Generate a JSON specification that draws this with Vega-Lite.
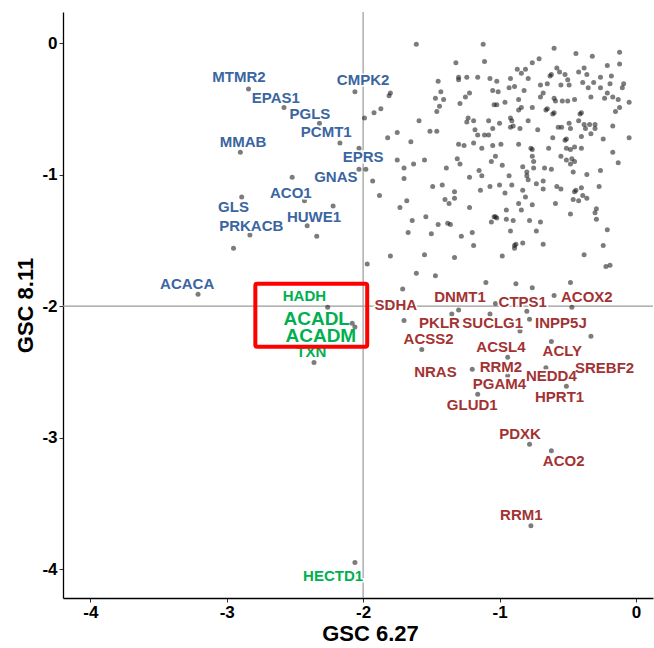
{
  "$schema": "https://vega.github.io/schema/vega-lite/v6.json",
  "width": 590,
  "height": 586,
  "autosize": "none",
  "padding": {"left": 63, "top": 12, "right": 1, "bottom": 50},
  "background": "white",
  "config": {
    "view": {"stroke": null},
    "axis": {
      "grid": false,
      "domainColor": "#000000",
      "domainWidth": 1.3,
      "tickColor": "#333333",
      "tickSize": 4,
      "tickWidth": 1,
      "labelFont": "Liberation Sans",
      "labelFontWeight": "bold",
      "labelFontSize": 17,
      "labelColor": "#000000",
      "labelPadding": 2,
      "titleFont": "Liberation Sans",
      "titleFontWeight": "bold",
      "titleFontSize": 22,
      "titleColor": "#000000"
    }
  },
  "datasets": {
    "points": [
      {"x":-2.84,"y":-0.35},{"x":-2.58,"y":-0.49},{"x":-2.32,"y":-0.61},{"x":-2.17,"y":-0.76},{"x":-2.90,"y":-0.83},{"x":-2.06,"y":-0.37},{"x":-2.03,"y":-0.80},{"x":-2.03,"y":-0.96},{"x":-1.98,"y":-0.96},{"x":-2.52,"y":-1.02},{"x":-2.89,"y":-1.17},{"x":-2.43,"y":-1.20},{"x":-2.22,"y":-1.24},{"x":-2.41,"y":-1.39},{"x":-2.34,"y":-1.47},{"x":-2.83,"y":-1.46},{"x":-2.95,"y":-1.56},{"x":-3.21,"y":-1.91},
      {"x":-2.26,"y":-2.01},{"x":-2.08,"y":-2.13},{"x":-2.06,"y":-2.16},{"x":-2.36,"y":-2.43},{"x":-2.06,"y":-3.95},
      {"x":-1.61,"y":-0.01},{"x":-1.12,"y":-0.01},{"x":-1.32,"y":-0.15},{"x":-1.11,"y":-0.14},{"x":-1.45,"y":-0.29},{"x":-1.30,"y":-0.26},{"x":-1.30,"y":-0.28},{"x":-1.24,"y":-0.26},{"x":-1.16,"y":-0.26},{"x":-1.07,"y":-0.27},{"x":-1.02,"y":-0.29},{"x":-1.80,"y":-0.38},{"x":-1.81,"y":-0.40},{"x":-1.43,"y":-0.37},{"x":-1.47,"y":-0.42},{"x":-1.41,"y":-0.43},{"x":-1.44,"y":-0.48},{"x":-1.46,"y":-0.52},{"x":-1.29,"y":-0.46},{"x":-1.25,"y":-0.41},{"x":-1.22,"y":-0.38},{"x":-1.05,"y":-0.36},{"x":-1.01,"y":-0.37},{"x":-0.96,"y":-0.45},{"x":-1.04,"y":-0.47},{"x":-1.02,"y":-0.47},{"x":-1.87,"y":-0.50},{"x":-1.92,"y":-0.53},{"x":-1.99,"y":-0.57},{"x":-1.59,"y":-0.59},{"x":-1.23,"y":-0.57},{"x":-1.24,"y":-0.60},{"x":-1.19,"y":-0.59},{"x":-1.08,"y":-0.59},{"x":-1.00,"y":-0.61},{"x":-1.18,"y":-0.66},{"x":-1.05,"y":-0.65},{"x":-1.16,"y":-0.70},{"x":-1.11,"y":-0.70},{"x":-1.08,"y":-0.70},{"x":-1.51,"y":-0.67},{"x":-1.46,"y":-0.67},{"x":-1.75,"y":-0.68},{"x":-1.82,"y":-0.72},{"x":-1.65,"y":-0.75},{"x":-1.30,"y":-0.77},{"x":-1.26,"y":-0.78},{"x":-1.19,"y":-0.76},{"x":-1.13,"y":-0.80},{"x":-1.05,"y":-0.78},{"x":-0.99,"y":-0.77},
      {"x":-0.60,"y":-0.04},{"x":-0.44,"y":-0.08},{"x":-0.32,"y":-0.10},{"x":-0.12,"y":-0.07},{"x":-0.12,"y":-0.16},{"x":-0.21,"y":-0.17},{"x":-0.71,"y":-0.12},{"x":-0.76,"y":-0.15},{"x":-0.87,"y":-0.20},{"x":-0.84,"y":-0.23},{"x":-0.81,"y":-0.20},{"x":-0.92,"y":-0.27},{"x":-0.79,"y":-0.27},{"x":-0.62,"y":-0.24},{"x":-0.63,"y":-0.25},{"x":-0.58,"y":-0.19},{"x":-0.56,"y":-0.22},{"x":-0.52,"y":-0.24},{"x":-0.42,"y":-0.22},{"x":-0.38,"y":-0.19},{"x":-0.36,"y":-0.24},{"x":-0.26,"y":-0.26},{"x":-0.18,"y":-0.25},{"x":-0.93,"y":-0.34},{"x":-0.89,"y":-0.33},{"x":-0.82,"y":-0.36},{"x":-0.70,"y":-0.32},{"x":-0.65,"y":-0.31},{"x":-0.55,"y":-0.32},{"x":-0.49,"y":-0.32},{"x":-0.50,"y":-0.28},{"x":-0.39,"y":-0.30},{"x":-0.35,"y":-0.34},{"x":-0.31,"y":-0.30},{"x":-0.26,"y":-0.34},{"x":-0.19,"y":-0.31},{"x":-0.09,"y":-0.31},{"x":-0.10,"y":-0.34},{"x":-0.33,"y":-0.41},{"x":-0.23,"y":-0.42},{"x":-0.21,"y":-0.38},{"x":-0.17,"y":-0.41},{"x":-0.13,"y":-0.43},{"x":-0.05,"y":-0.45},{"x":-0.12,"y":-0.49},{"x":-0.15,"y":-0.52},{"x":-0.70,"y":-0.41},{"x":-0.68,"y":-0.38},{"x":-0.60,"y":-0.42},{"x":-0.59,"y":-0.44},{"x":-0.54,"y":-0.44},{"x":-0.50,"y":-0.44},{"x":-0.45,"y":-0.43},{"x":-0.86,"y":-0.43},{"x":-0.84,"y":-0.49},{"x":-0.86,"y":-0.51},{"x":-0.76,"y":-0.49},{"x":-0.65,"y":-0.50},{"x":-0.66,"y":-0.51},{"x":-0.60,"y":-0.53},{"x":-0.61,"y":-0.54},{"x":-0.92,"y":-0.57},{"x":-0.91,"y":-0.59},{"x":-0.92,"y":-0.64},{"x":-0.90,"y":-0.63},{"x":-0.85,"y":-0.65},{"x":-0.79,"y":-0.59},{"x":-0.72,"y":-0.66},{"x":-0.57,"y":-0.64},{"x":-0.545,"y":-0.64},{"x":-0.49,"y":-0.61},{"x":-0.48,"y":-0.65},{"x":-0.42,"y":-0.59},{"x":-0.40,"y":-0.53},{"x":-0.41,"y":-0.54},{"x":-0.38,"y":-0.62},{"x":-0.37,"y":-0.65},{"x":-0.34,"y":-0.62},{"x":-0.30,"y":-0.62},{"x":-0.30,"y":-0.65},{"x":-0.17,"y":-0.63},{"x":-0.61,"y":-0.72},{"x":-0.51,"y":-0.73},{"x":-0.52,"y":-0.74},{"x":-0.40,"y":-0.71},{"x":-0.33,"y":-0.69},{"x":-0.24,"y":-0.73},{"x":-0.05,"y":-0.72},{"x":-0.86,"y":-0.77},{"x":-0.76,"y":-0.81},{"x":-0.77,"y":-0.80},{"x":-0.64,"y":-0.80},{"x":-0.51,"y":-0.80},{"x":-0.48,"y":-0.81},{"x":-0.45,"y":-0.79},{"x":-0.40,"y":-0.80},{"x":-0.17,"y":-0.83},
      {"x":-1.75,"y":-0.89},{"x":-1.70,"y":-0.95},{"x":-1.63,"y":-0.92},{"x":-1.55,"y":-0.89},{"x":-1.39,"y":-0.95},{"x":-1.31,"y":-0.88},{"x":-1.29,"y":-0.92},{"x":-1.22,"y":-1.02},{"x":-1.15,"y":-0.97},{"x":-1.13,"y":-1.01},{"x":-1.06,"y":-0.90},{"x":-1.03,"y":-0.86},{"x":-0.98,"y":-0.93},{"x":-1.07,"y":-1.09},{"x":-1.00,"y":-1.08},{"x":-1.14,"y":-1.12},{"x":-0.96,"y":-1.14},{"x":-1.70,"y":-1.03},{"x":-1.93,"y":-1.05},{"x":-1.49,"y":-1.09},{"x":-1.42,"y":-1.08},{"x":-1.33,"y":-1.13},{"x":-1.33,"y":-1.18},{"x":-1.40,"y":-1.19},{"x":-1.37,"y":-1.22},{"x":-1.22,"y":-1.25},{"x":-1.68,"y":-1.20},{"x":-1.73,"y":-1.25},{"x":-1.88,"y":-1.16},{"x":-1.54,"y":-1.32},{"x":-1.64,"y":-1.35},{"x":-1.45,"y":-1.38},{"x":-1.38,"y":-1.37},{"x":-1.36,"y":-1.38},{"x":-1.28,"y":-1.47},{"x":-1.20,"y":-1.44},{"x":-1.19,"y":-1.54},{"x":-1.50,"y":-1.45},{"x":-1.67,"y":-1.44},{"x":-1.04,"y":-1.32},{"x":-1.02,"y":-1.33},{"x":-1.03,"y":-1.32},{"x":-1.06,"y":-1.36},{"x":-1.55,"y":-1.61},{"x":-1.33,"y":-1.63},{"x":-0.98,"y":-1.62},{"x":-1.80,"y":-1.62},{"x":-1.97,"y":-1.68},{"x":-1.61,"y":-1.75},{"x":-1.47,"y":-1.77},{"x":-1.10,"y":-1.82},
      {"x":-0.76,"y":-0.86},{"x":-0.75,"y":-0.90},{"x":-0.55,"y":-0.86},{"x":-0.51,"y":-0.89},{"x":-0.48,"y":-0.92},{"x":-0.47,"y":-0.88},{"x":-0.45,"y":-0.90},{"x":-0.13,"y":-0.91},{"x":-0.83,"y":-0.94},{"x":-0.75,"y":-0.95},{"x":-0.67,"y":-0.95},{"x":-0.62,"y":-0.96},{"x":-0.80,"y":-0.98},{"x":-0.80,"y":-1.01},{"x":-0.79,"y":-1.04},{"x":-0.93,"y":-1.01},{"x":-0.91,"y":-1.08},{"x":-0.73,"y":-1.07},{"x":-0.68,"y":-1.05},{"x":-0.68,"y":-1.11},{"x":-0.58,"y":-1.09},{"x":-0.55,"y":-1.11},{"x":-0.46,"y":-0.98},{"x":-0.36,"y":-1.00},{"x":-0.26,"y":-0.97},{"x":-0.27,"y":-1.09},{"x":-0.40,"y":-1.10},{"x":-0.45,"y":-1.13},{"x":-0.44,"y":-1.12},{"x":-0.46,"y":-1.19},{"x":-0.42,"y":-1.20},{"x":-0.39,"y":-1.16},{"x":-0.36,"y":-1.18},{"x":-0.83,"y":-1.12},{"x":-0.81,"y":-1.17},{"x":-0.86,"y":-1.22},{"x":-0.84,"y":-1.27},{"x":-0.76,"y":-1.23},{"x":-0.59,"y":-1.22},{"x":-0.95,"y":-1.27},{"x":-0.95,"y":-1.34},{"x":-0.90,"y":-1.35},{"x":-0.78,"y":-1.35},{"x":-0.70,"y":-1.36},{"x":-0.92,"y":-1.43},{"x":-0.73,"y":-1.43},{"x":-0.48,"y":-1.30},{"x":-0.29,"y":-1.26},{"x":-0.30,"y":-1.29},{"x":-0.29,"y":-1.34},{"x":-0.21,"y":-1.42},{"x":-0.24,"y":-1.54},{"x":-0.38,"y":-1.61},{"x":-0.22,"y":-1.70},{"x":-0.19,"y":-1.69},{"x":-0.89,"y":-1.54},{"x":-0.88,"y":-1.53},{"x":-0.89,"y":-1.56},{"x":-0.83,"y":-1.52},{"x":-0.68,"y":-1.53},
      {"x":-1.71,"y":-1.87},{"x":-0.88,"y":-1.83},{"x":-0.76,"y":-1.86},{"x":-0.48,"y":-1.82},{"x":-0.60,"y":-1.92},{"x":-1.03,"y":-1.98},{"x":-0.80,"y":-2.04},{"x":-1.35,"y":-2.06},{"x":-1.30,"y":-2.03},{"x":-1.07,"y":-2.06},{"x":-0.47,"y":-2.01},{"x":-1.70,"y":-2.11},{"x":-0.78,"y":-2.10},{"x":-0.85,"y":-2.19},{"x":-0.33,"y":-2.23},{"x":-0.62,"y":-2.27},{"x":-1.57,"y":-2.33},{"x":-0.94,"y":-2.39},{"x":-1.20,"y":-2.48},{"x":-0.94,"y":-2.53},{"x":-0.66,"y":-2.47},{"x":-0.51,"y":-2.61},{"x":-1.16,"y":-2.67},{"x":-0.78,"y":-3.05},{"x":-0.62,"y":-3.10},{"x":-0.77,"y":-3.67}
    ],
    "labels": [
      {"gene":"MTMR2","group":"up","x":-2.91,"y":-0.26},
      {"gene":"CMPK2","group":"up","x":-2.00,"y":-0.28},
      {"gene":"EPAS1","group":"up","x":-2.64,"y":-0.42},
      {"gene":"PGLS","group":"up","x":-2.39,"y":-0.54},
      {"gene":"PCMT1","group":"up","x":-2.27,"y":-0.68},
      {"gene":"MMAB","group":"up","x":-2.88,"y":-0.75},
      {"gene":"EPRS","group":"up","x":-2.00,"y":-0.87},
      {"gene":"GNAS","group":"up","x":-2.20,"y":-1.02},
      {"gene":"ACO1","group":"up","x":-2.53,"y":-1.14},
      {"gene":"GLS","group":"up","x":-2.95,"y":-1.25},
      {"gene":"HUWE1","group":"up","x":-2.36,"y":-1.32},
      {"gene":"PRKACB","group":"up","x":-2.82,"y":-1.39},
      {"gene":"ACACA","group":"up","x":-3.29,"y":-1.83},
      {"gene":"HADH","group":"mid","x":-2.43,"y":-1.92},
      {"gene":"TXN","group":"mid","x":-2.38,"y":-2.35},
      {"gene":"HECTD1","group":"mid","x":-2.22,"y":-4.05},
      {"gene":"ACADL","group":"midbig","x":-2.34,"y":-2.10},
      {"gene":"ACADM","group":"midbig","x":-2.31,"y":-2.23},
      {"gene":"SDHA","group":"down","x":-1.76,"y":-1.99},
      {"gene":"DNMT1","group":"down","x":-1.29,"y":-1.93},
      {"gene":"CTPS1","group":"down","x":-0.83,"y":-1.97},
      {"gene":"ACOX2","group":"down","x":-0.36,"y":-1.93},
      {"gene":"PKLR","group":"down","x":-1.44,"y":-2.13},
      {"gene":"SUCLG1","group":"down","x":-1.05,"y":-2.13},
      {"gene":"INPP5J","group":"down","x":-0.55,"y":-2.13},
      {"gene":"ACSS2","group":"down","x":-1.52,"y":-2.25},
      {"gene":"ACSL4","group":"down","x":-0.99,"y":-2.31},
      {"gene":"ACLY","group":"down","x":-0.54,"y":-2.34},
      {"gene":"NRAS","group":"down","x":-1.47,"y":-2.50},
      {"gene":"RRM2","group":"down","x":-0.99,"y":-2.46},
      {"gene":"NEDD4","group":"down","x":-0.62,"y":-2.53},
      {"gene":"SREBF2","group":"down","x":-0.23,"y":-2.47},
      {"gene":"PGAM4","group":"down","x":-1.00,"y":-2.59},
      {"gene":"HPRT1","group":"down","x":-0.56,"y":-2.69},
      {"gene":"GLUD1","group":"down","x":-1.20,"y":-2.75},
      {"gene":"PDXK","group":"down","x":-0.85,"y":-2.97},
      {"gene":"ACO2","group":"down","x":-0.53,"y":-3.18},
      {"gene":"RRM1","group":"down","x":-0.84,"y":-3.59}
    ],
    "box": [{"x1":-2.79,"x2":-1.97,"y1":-1.83,"y2":-2.31}],
    "ref": [{"v":-2}]
  },
  "layer": [
    {
      "data": {"name": "ref"},
      "mark": {"type": "rule", "color": "#9a9a9a", "strokeWidth": 1.2},
      "encoding": {
        "x": {"field": "v", "type": "quantitative", "scale": {"domain": [-4.2, 0.125], "nice": false, "zero": false},
              "axis": {"title": "GSC 6.27", "values": [-4, -3, -2, -1, 0], "labelExpr": "'' + datum.value", "titleX": 307, "titlePadding": 3}}
      }
    },
    {
      "data": {"name": "ref"},
      "mark": {"type": "rule", "color": "#9a9a9a", "strokeWidth": 1.2},
      "encoding": {
        "y": {"field": "v", "type": "quantitative", "scale": {"domain": [-4.22, 0.236], "nice": false, "zero": false},
              "axis": {"title": "GSC 8.11", "values": [-4, -3, -2, -1, 0], "labelExpr": "'' + datum.value", "titlePadding": 4}}
      }
    },
    {
      "data": {"name": "points"},
      "mark": {"type": "circle", "size": 25, "color": "#111111", "opacity": 0.55},
      "encoding": {
        "x": {"field": "x", "type": "quantitative", "title": "GSC 6.27"},
        "y": {"field": "y", "type": "quantitative", "title": "GSC 8.11"}
      }
    },
    {
      "data": {"name": "labels"},
      "mark": {"type": "text", "font": "Liberation Sans", "fontWeight": "bold", "fontSize": 15, "baseline": "middle", "align": "center", "stroke": "white", "strokeWidth": 3, "fill": "white"},
      "transform": [{"filter": "datum.group != 'midbig'"}],
      "encoding": {
        "x": {"field": "x", "type": "quantitative", "title": "GSC 6.27"},
        "y": {"field": "y", "type": "quantitative", "title": "GSC 8.11"},
        "text": {"field": "gene"}
      }
    },
    {
      "data": {"name": "labels"},
      "mark": {"type": "text", "font": "Liberation Sans", "fontWeight": "bold", "fontSize": 15, "baseline": "middle", "align": "center"},
      "transform": [{"filter": "datum.group != 'midbig'"}],
      "encoding": {
        "x": {"field": "x", "type": "quantitative", "title": "GSC 6.27"},
        "y": {"field": "y", "type": "quantitative", "title": "GSC 8.11"},
        "text": {"field": "gene"},
        "color": {"field": "group", "type": "nominal", "scale": {"domain": ["up", "mid", "midbig", "down"], "range": ["#3b65a0", "#00b050", "#00b050", "#a33333"]}, "legend": null}
      }
    },
    {
      "data": {"name": "labels"},
      "mark": {"type": "text", "font": "Liberation Sans", "fontWeight": "bold", "fontSize": 19, "baseline": "middle", "align": "center", "color": "#00b050"},
      "transform": [{"filter": "datum.group == 'midbig'"}],
      "encoding": {
        "x": {"field": "x", "type": "quantitative", "title": "GSC 6.27"},
        "y": {"field": "y", "type": "quantitative", "title": "GSC 8.11"},
        "text": {"field": "gene"}
      }
    },
    {
      "data": {"name": "box"},
      "mark": {"type": "rect", "fill": null, "fillOpacity": 0, "stroke": "#ff0000", "strokeWidth": 4, "cornerRadius": 2},
      "encoding": {
        "x": {"field": "x1", "type": "quantitative", "title": "GSC 6.27"},
        "x2": {"field": "x2"},
        "y": {"field": "y1", "type": "quantitative", "title": "GSC 8.11"},
        "y2": {"field": "y2"}
      }
    }
  ]
}
